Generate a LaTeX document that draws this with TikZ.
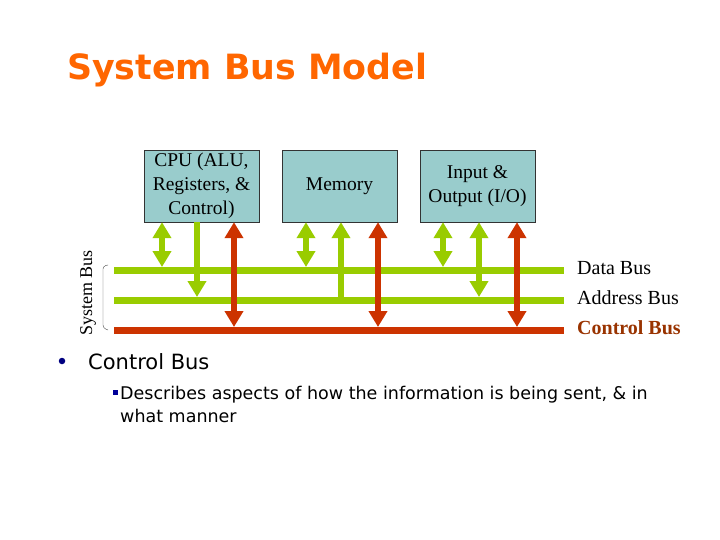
\documentclass[tikz,border=0pt]{standalone}
\usepackage{fontspec}
\setmainfont{Liberation Serif}
\newfontfamily\slidefont{DejaVu Sans}
\usetikzlibrary{arrows.meta}

\definecolor{busgreen}{RGB}{153,204,0}
\definecolor{busred}{RGB}{204,51,0}
\definecolor{boxteal}{RGB}{153,204,204}
\definecolor{titleorange}{RGB}{255,102,0}
\definecolor{ctrltext}{RGB}{153,51,0}
\definecolor{bulletblue}{RGB}{0,0,128}

\begin{document}
\begin{tikzpicture}[x=1pt,y=-1pt,
  unit/.style={draw=black!80,fill=boxteal,minimum width=115pt,minimum height=72pt,
    align=center,inner sep=0pt,font=\fontsize{19.5}{24}\selectfont},
  bus/.style={line width=7pt},
  busarrow/.style={line width=6pt,arrows={-Triangle[width=18pt,length=16pt]}},
  bothways/.style={busarrow,arrows={Triangle[width=18pt,length=16pt]-Triangle[width=18pt,length=16pt]}},
  buslabel/.style={anchor=west,inner sep=0pt,font=\fontsize{20}{22}\selectfont},
  bodytext/.style={anchor=base west,inner sep=0pt,font=\slidefont\fontsize{17.5}{24}\selectfont}]

\useasboundingbox (0,0) rectangle (720,540);

% title
\node[anchor=base west,inner sep=0pt,text=titleorange,font=\slidefont\bfseries\fontsize{34.8}{40}\selectfont] (title) at (67,80) {System Bus Model};

% units
\node[unit] (cpu) at (201.5,186) {CPU (ALU,\\Registers, \&\\Control)};
\node[unit] (mem) at (339.5,186) {Memory};
\node[unit] (io)  at (477.5,186) {Input \&\\Output (I/O)};

% bus ends
\coordinate (d0) at (114,270); \coordinate (d9) at (564,270);
\coordinate (a0) at (114,300); \coordinate (a9) at (564,300);
\coordinate (c0) at (114,330); \coordinate (c9) at (564,330);

\draw[bus,busgreen] (d0) -- (d9);
\draw[bus,busgreen] (a0) -- (a9);
\draw[bus,busred] (c0) -- (c9);

% taps on the buses
\coordinate (d1) at (162,267); \coordinate (a1) at (197,297); \coordinate (c1) at (234,327);
\coordinate (d2) at (306,267); \coordinate (a2) at (341,300); \coordinate (c2) at (378,327);
\coordinate (d3) at (443,267); \coordinate (a3) at (479,297); \coordinate (c3) at (517,327);

\draw[bothways,busgreen] (cpu.south -| d1) -- (d1);
\draw[busarrow,busgreen] (cpu.south -| a1) -- (a1);
\draw[bothways,busred] (cpu.south -| c1) -- (c1);

\draw[bothways,busgreen] (mem.south -| d2) -- (d2);
\draw[busarrow,busgreen] (a2) -- (mem.south -| a2);
\draw[bothways,busred] (mem.south -| c2) -- (c2);

\draw[bothways,busgreen] (io.south -| d3) -- (d3);
\draw[bothways,busgreen] (io.south -| a3) -- (a3);
\draw[bothways,busred] (io.south -| c3) -- (c3);

% bus names
\node[buslabel] (dl) at (577,268) {Data Bus};
\node[buslabel] (al) at (577,298) {Address Bus};
\node[buslabel,text=ctrltext,font=\bfseries\fontsize{20}{22}\selectfont] (cl) at (577,328) {Control Bus};

% brace
\draw[black!70,rounded corners=3pt] (108,265) -- (103,266) -- (103,328) -- (108,330);
\node[rotate=90,font=\fontsize{18}{20}\selectfont] (sys) at (88,293) {System Bus};

% text
\node[circle,fill=bulletblue,inner sep=0pt,minimum size=6.5pt] (b1) at (62,361) {};
\node[bodytext,font=\slidefont\fontsize{21}{26}\selectfont] (t1) at (88,369) {Control Bus};
\fill[blue!60!black] (113,390) rectangle (118,395);
\node[bodytext] (t2) at (120,399) {Describes aspects of how the information is being sent, \& in};
\node[bodytext] (t3) at (120,422) {what manner};

\end{tikzpicture}
\end{document}
